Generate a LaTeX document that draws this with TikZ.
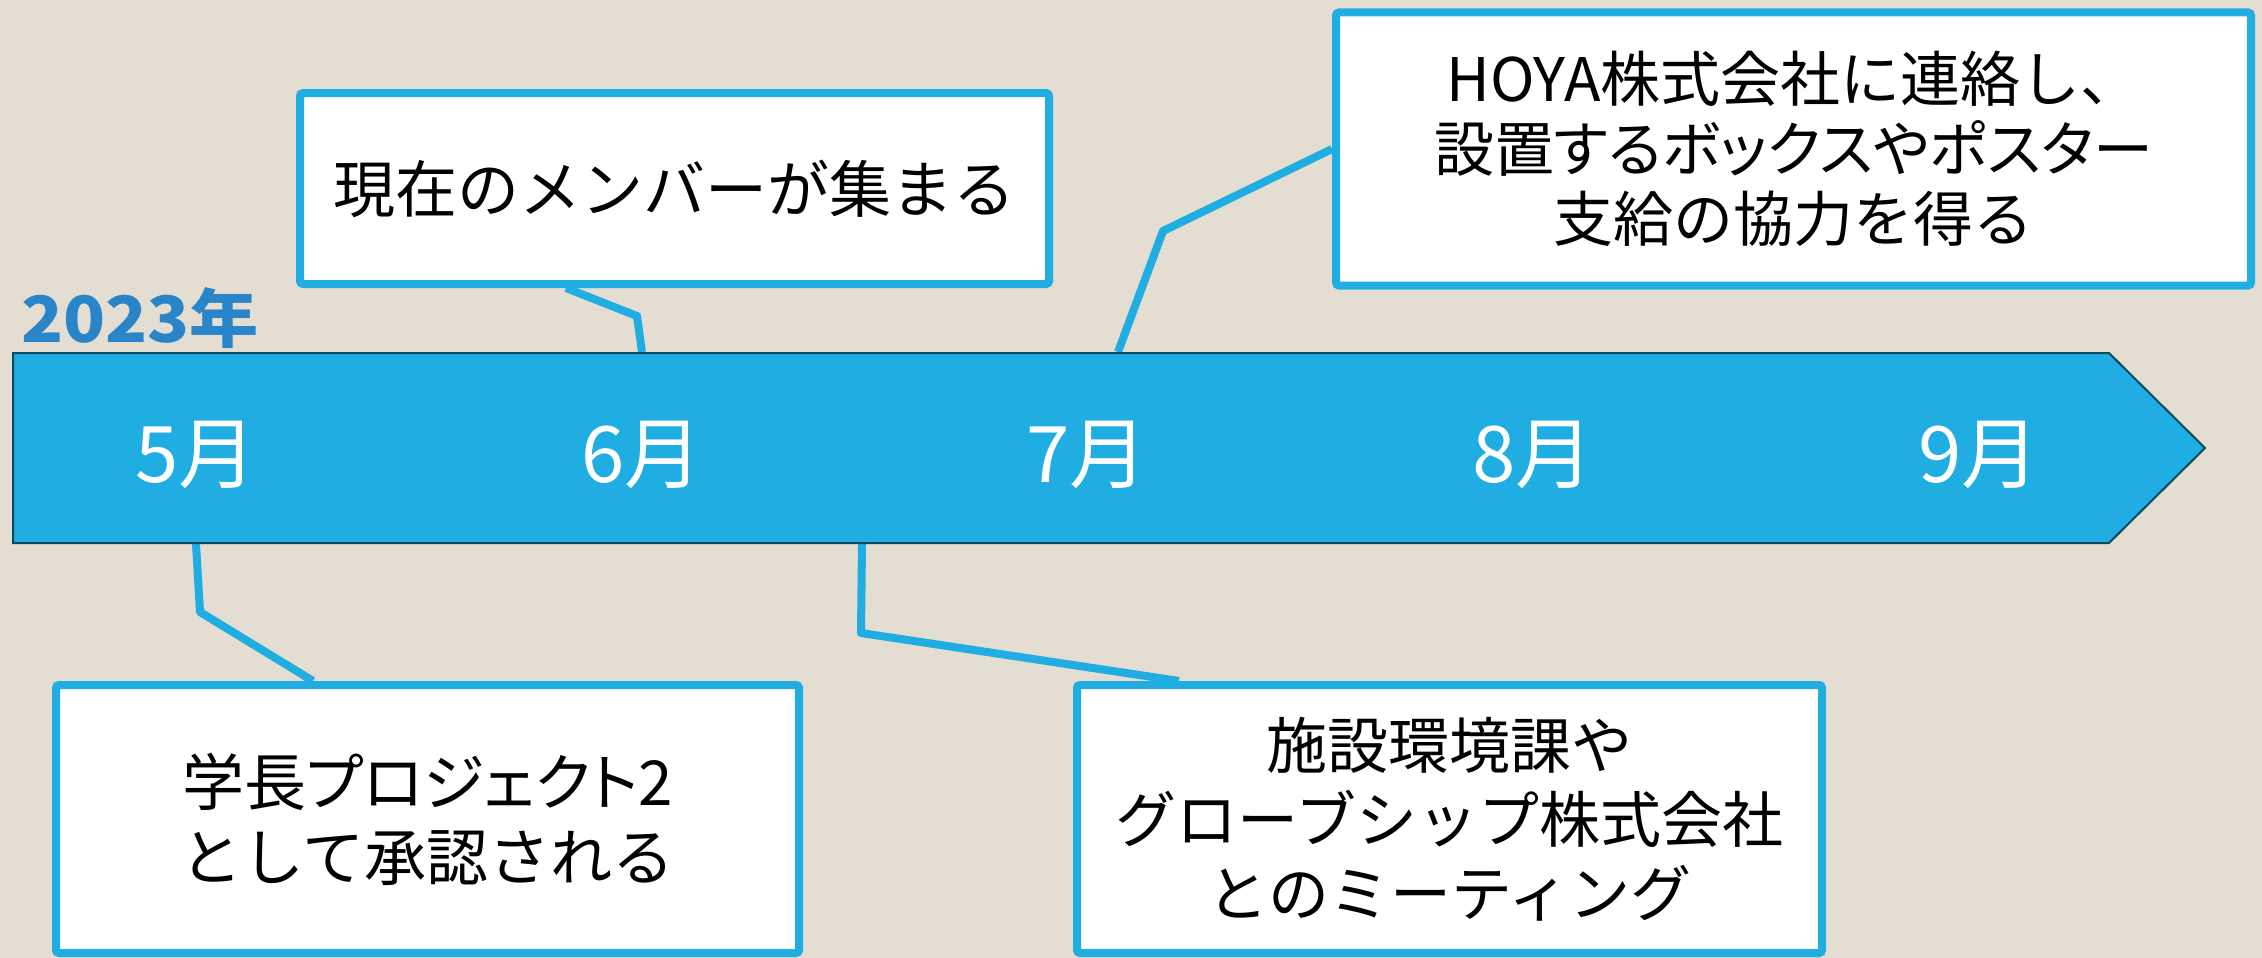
\documentclass[tikz,border=0pt]{standalone}
\usepackage{fontspec}
\usepackage{graphicx}
\setmainfont{Noto Sans CJK JP}
\newfontfamily\jpp[RawFeature=+palt]{Noto Sans CJK JP}
\definecolor{barblue}{HTML}{1FADE2}
\definecolor{baroutline}{HTML}{0B4A63}
\definecolor{bgbeige}{HTML}{E3DDD2}
\definecolor{yearblue}{HTML}{2A85C8}
\pgfdeclarelayer{back}
\pgfdeclarelayer{links}
\pgfsetlayers{back,links,main}
\begin{document}
\begin{tikzpicture}[x=1pt,y=-1pt,
  box/.style={draw=barblue, line width=8pt, fill=white, rounded corners=3pt,
    inner sep=0pt, align=center, text=black},
  link/.style={draw=barblue, line width=8pt, line join=round},
  month/.style={text=white, font=\fontsize{78}{84}\selectfont, inner sep=0pt}]
\begin{pgfonlayer}{back}
  \fill[bgbeige] (0,0) rectangle (2262,958);
\end{pgfonlayer}
\useasboundingbox (0,0) rectangle (2262,958);

% timeline bar
\path[fill=barblue, draw=baroutline, line width=2pt]
  (13,353) -- (2109,353) -- (2205,448) -- (2109,543) -- (13,543) -- cycle;
\coordinate (b5) at (196,544);
\coordinate (b6) at (642,352);
\coordinate (b7) at (1118,352);
\coordinate (b8) at (862,544);

% year
\node[anchor=base west, inner sep=0pt, text=yearblue,
  font=\fontsize{64}{70}\selectfont\bfseries] (year) at (21,342)
  {\scalebox{1.08}[1]{2023年}};

% months
\node[month] (m5) at (196,455) {5月};
\node[month] (m6) at (642,455) {6月};
\node[month] (m7) at (1087,455) {7月};
\node[month] (m8) at (1533,455) {8月};
\node[month] (m9) at (1979,455) {9月};

% boxes
\node[box, minimum width=749pt, minimum height=191pt,
  font=\fontsize{62}{70}\selectfont] (box1) at (674.5,188.5)
  {現在のメンバーが集まる};
\node[box, minimum width=915pt, minimum height=273pt,
  font=\fontsize{60}{70}\selectfont] (hoya) at (1793.5,149)
  {HOYA株式会社に連絡し、\\{\jpp 設置するボックスやポスター}\\支給の協力を得る};
\node[box, minimum width=743pt, minimum height=268pt,
  font=\fontsize{62}{75}\selectfont] (gak) at (427.5,819)
  {{\jpp 学長プロジェクト2}\\として承認される};
\node[box, minimum width=745pt, minimum height=268pt,
  font=\fontsize{61}{74}\selectfont] (shi) at (1449.5,819)
  {施設環境課や\\グローブシップ株式会社\\とのミーティング};

% connectors
\begin{pgfonlayer}{links}
  \draw[link] (b5) -- (200,612) -- ([xshift=261pt]gak.north west);
  \draw[link] ([xshift=270pt]box1.south west) -- (637,316) -- (b6);
  \draw[link] (b7) -- (1163,231) -- (hoya.west);
  \draw[link] (b8) -- (861,633) -- ([xshift=106pt]shi.north west);
\end{pgfonlayer}
\end{tikzpicture}
\end{document}
